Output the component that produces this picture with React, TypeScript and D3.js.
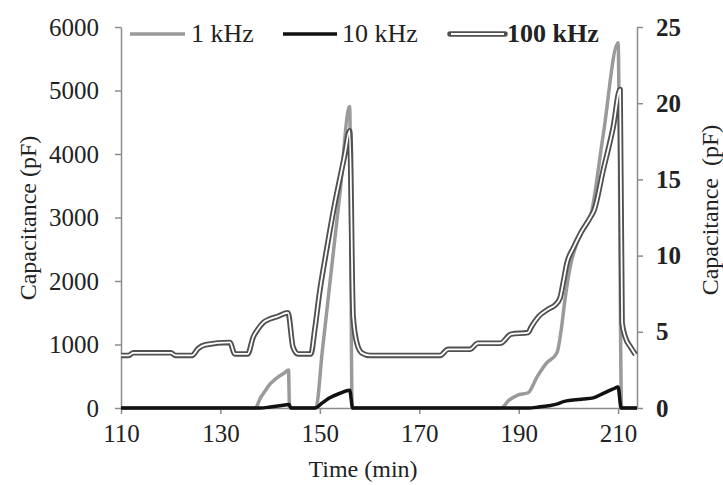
import React, { useEffect, useRef } from 'react';
import * as d3 from 'd3';

// Time (min) and capacitance (pF)
const t1k = [110, 137, 138, 139, 140, 141, 142, 143, 143.7, 143.9, 149.2, 150.5, 152, 154, 156, 156.5, 186.5, 188, 189.7, 191.9, 193.7, 195.5, 197.7, 198.5, 199.3, 200.3, 201.5, 203, 204.4, 207, 210, 210.7, 213.8];
const v1k = [0, 0, 150, 270, 380, 450, 510, 560, 600, 0, 0, 900, 1950, 3350, 4750, 0, 0, 120, 200, 240, 490, 700, 870, 1200, 1700, 2200, 2550, 2800, 3000, 4300, 5750, 0, 0];

const t10k = [110, 138, 140, 142, 143.8, 144.2, 149, 150.5, 152, 154, 156, 156.6, 192, 194, 196, 198, 199, 201, 203, 205, 207, 209, 210, 210.6, 213.8];
const v10k = [0, 0, 15, 35, 55, 0, 0, 80, 160, 230, 280, 0, 0, 15, 35, 70, 100, 125, 140, 160, 230, 300, 330, 0, 0];

const t100k = [110, 111.5, 112.5, 120, 121, 124.3, 125.5, 127, 131.9, 132.9, 135.5, 136.6, 137.6, 138.6, 140, 141.4, 143.6, 144.6, 145.6, 148.2, 149, 150, 151, 152, 153, 154, 155, 156, 156.7, 157.5, 158.5, 160, 174.2, 175.8, 180.2, 181.8, 186.3, 188.5, 191.9, 192.5, 194, 196, 197.3, 198.3, 199, 199.7, 201, 202.5, 204.4, 205.2, 207, 209, 210.4, 210.8, 211.5, 212.5, 213.5];
const v100k = [3.45, 3.45, 3.62, 3.62, 3.45, 3.45, 3.9, 4.15, 4.3, 3.55, 3.55, 4.66, 5.2, 5.6, 5.85, 6.0, 6.25, 4.0, 3.55, 3.55, 5.2, 7.7, 9.7, 11.6, 13.4, 15.0, 16.6, 18.2, 6.0, 4.2, 3.6, 3.45, 3.45, 3.85, 3.85, 4.25, 4.25, 4.85, 4.95, 5.3, 6.0, 6.5, 6.75, 7.2, 8.3, 9.5, 10.5, 11.5, 12.5, 13.0, 15.6, 18.4, 20.9, 5.6, 4.6, 4.0, 3.5];

const xTicks = [110, 130, 150, 170, 190, 210];
const yLeftTicks = [0, 1000, 2000, 3000, 4000, 5000, 6000];
const yRightTicks = [0, 5, 10, 15, 20, 25];
const seriesNames = ['1 kHz', '10 kHz', '100 kHz'];

const FONT = '"Liberation Serif", "Times New Roman", serif';

export default function App() {
  const ref = useRef<SVGSVGElement>(null);

  useEffect(() => {
    const svg = d3.select(ref.current);
    svg.selectAll('*').remove();

    const x = d3.scaleLinear().domain([110, 213.8]).range([121, 637]);
    const yL = d3.scaleLinear().domain([0, 6000]).range([408, 27]);
    const yR = d3.scaleLinear().domain([0, 25]).range([408, 27]);

    const axisColor = '#8c8c8c';
    const textColor = '#222';

    const styleAxis = (g: any, bold = false) => {
      g.selectAll('path.domain').attr('stroke', axisColor).attr('stroke-width', 1.5);
      g.selectAll('.tick line').attr('stroke', axisColor).attr('stroke-width', 1.5);
      g.selectAll('.tick text')
        .attr('fill', textColor)
        .style('font-family', FONT)
        .style('font-size', '25px')
        .style('font-weight', bold ? 'bold' : 'normal');
    };

    // Axes
    const gx = svg.append('g').attr('transform', 'translate(0,408)')
      .call(d3.axisBottom(x).tickValues(xTicks).tickFormat(d3.format('d')).tickSize(6).tickSizeOuter(0).tickPadding(10));
    styleAxis(gx);

    const gl = svg.append('g').attr('transform', 'translate(121,0)')
      .call(d3.axisLeft(yL).tickValues(yLeftTicks).tickFormat(d3.format('d')).tickSize(6).tickSizeOuter(0).tickPadding(16));
    styleAxis(gl);

    const gr = svg.append('g').attr('transform', 'translate(637,0)')
      .call(d3.axisRight(yR).tickValues(yRightTicks).tickFormat(d3.format('d')).tickSize(6).tickSizeOuter(0).tickPadding(13));
    styleAxis(gr, true);

    // Lines
    const mk = (ts: number[], vs: number[]) => ts.map((t, i) => [t, vs[i]] as [number, number]);
    const lineL = d3.line<[number, number]>().x(d => x(d[0])).y(d => yL(d[1])).curve(d3.curveMonotoneX);
    const lineR = d3.line<[number, number]>().x(d => x(d[0])).y(d => yR(d[1])).curve(d3.curveMonotoneX);

    const plot = svg.append('g');
    plot.append('path').attr('d', lineL(mk(t1k, v1k)) as string)
      .attr('fill', 'none').attr('stroke', '#9a9a9a').attr('stroke-width', 3.5).attr('stroke-linejoin', 'round');
    plot.append('path').attr('d', lineL(mk(t10k, v10k)) as string)
      .attr('fill', 'none').attr('stroke', '#111').attr('stroke-width', 3.5).attr('stroke-linejoin', 'round');
    const d100 = lineR(mk(t100k, v100k)) as string;
    plot.append('path').attr('d', d100)
      .attr('fill', 'none').attr('stroke', '#505050').attr('stroke-width', 5.5).attr('stroke-linejoin', 'round');
    plot.append('path').attr('d', d100)
      .attr('fill', 'none').attr('stroke', '#fff').attr('stroke-width', 1.8).attr('stroke-linejoin', 'round');

    // Legend
    const leg = svg.append('g');
    const legY = 34;
    const items = [
      { name: seriesNames[0], x0: 130, x1: 185, tx: 191, kind: 'gray' },
      { name: seriesNames[1], x0: 283, x1: 337, tx: 342, kind: 'black' },
      { name: seriesNames[2], x0: 450, x1: 505, tx: 507, kind: 'double' },
    ];
    items.forEach(it => {
      if (it.kind === 'double') {
        leg.append('line').attr('x1', it.x0).attr('x2', it.x1).attr('y1', legY).attr('y2', legY)
          .attr('stroke', '#505050').attr('stroke-width', 5.5).attr('stroke-linecap', 'round');
        leg.append('line').attr('x1', it.x0 + 1).attr('x2', it.x1 - 1).attr('y1', legY).attr('y2', legY)
          .attr('stroke', '#fff').attr('stroke-width', 1.8);
      } else {
        leg.append('line').attr('x1', it.x0).attr('x2', it.x1).attr('y1', legY).attr('y2', legY)
          .attr('stroke', it.kind === 'gray' ? '#9a9a9a' : '#111').attr('stroke-width', 3.5);
      }
      leg.append('text').attr('x', it.tx).attr('y', legY + 8).text(it.name)
        .attr('fill', textColor).style('font-family', FONT).style('font-size', '26px')
        .style('font-weight', it.kind === 'double' ? 'bold' : 'normal');
    });

    // Axis titles
    svg.append('text').attr('x', 363).attr('y', 477).attr('text-anchor', 'middle').text('Time (min)')
      .attr('fill', textColor).style('font-family', FONT).style('font-size', '24px');
    svg.append('text').attr('transform', 'translate(36,218) rotate(-90)').attr('text-anchor', 'middle')
      .text('Capacitance (pF)').attr('fill', textColor).style('font-family', FONT).style('font-size', '24px');
    svg.append('text').attr('transform', 'translate(718,210) rotate(-90)').attr('text-anchor', 'middle')
      .attr('xml:space', 'preserve').style('white-space', 'pre')
      .text('Capacitance  (pF)').attr('fill', textColor).style('font-family', FONT).style('font-size', '24px');
  }, []);

  return (
    <svg ref={ref} width={723} height={485}
      style={{ position: 'absolute', left: 0, top: 0, background: '#fff' }} />
  );
}
